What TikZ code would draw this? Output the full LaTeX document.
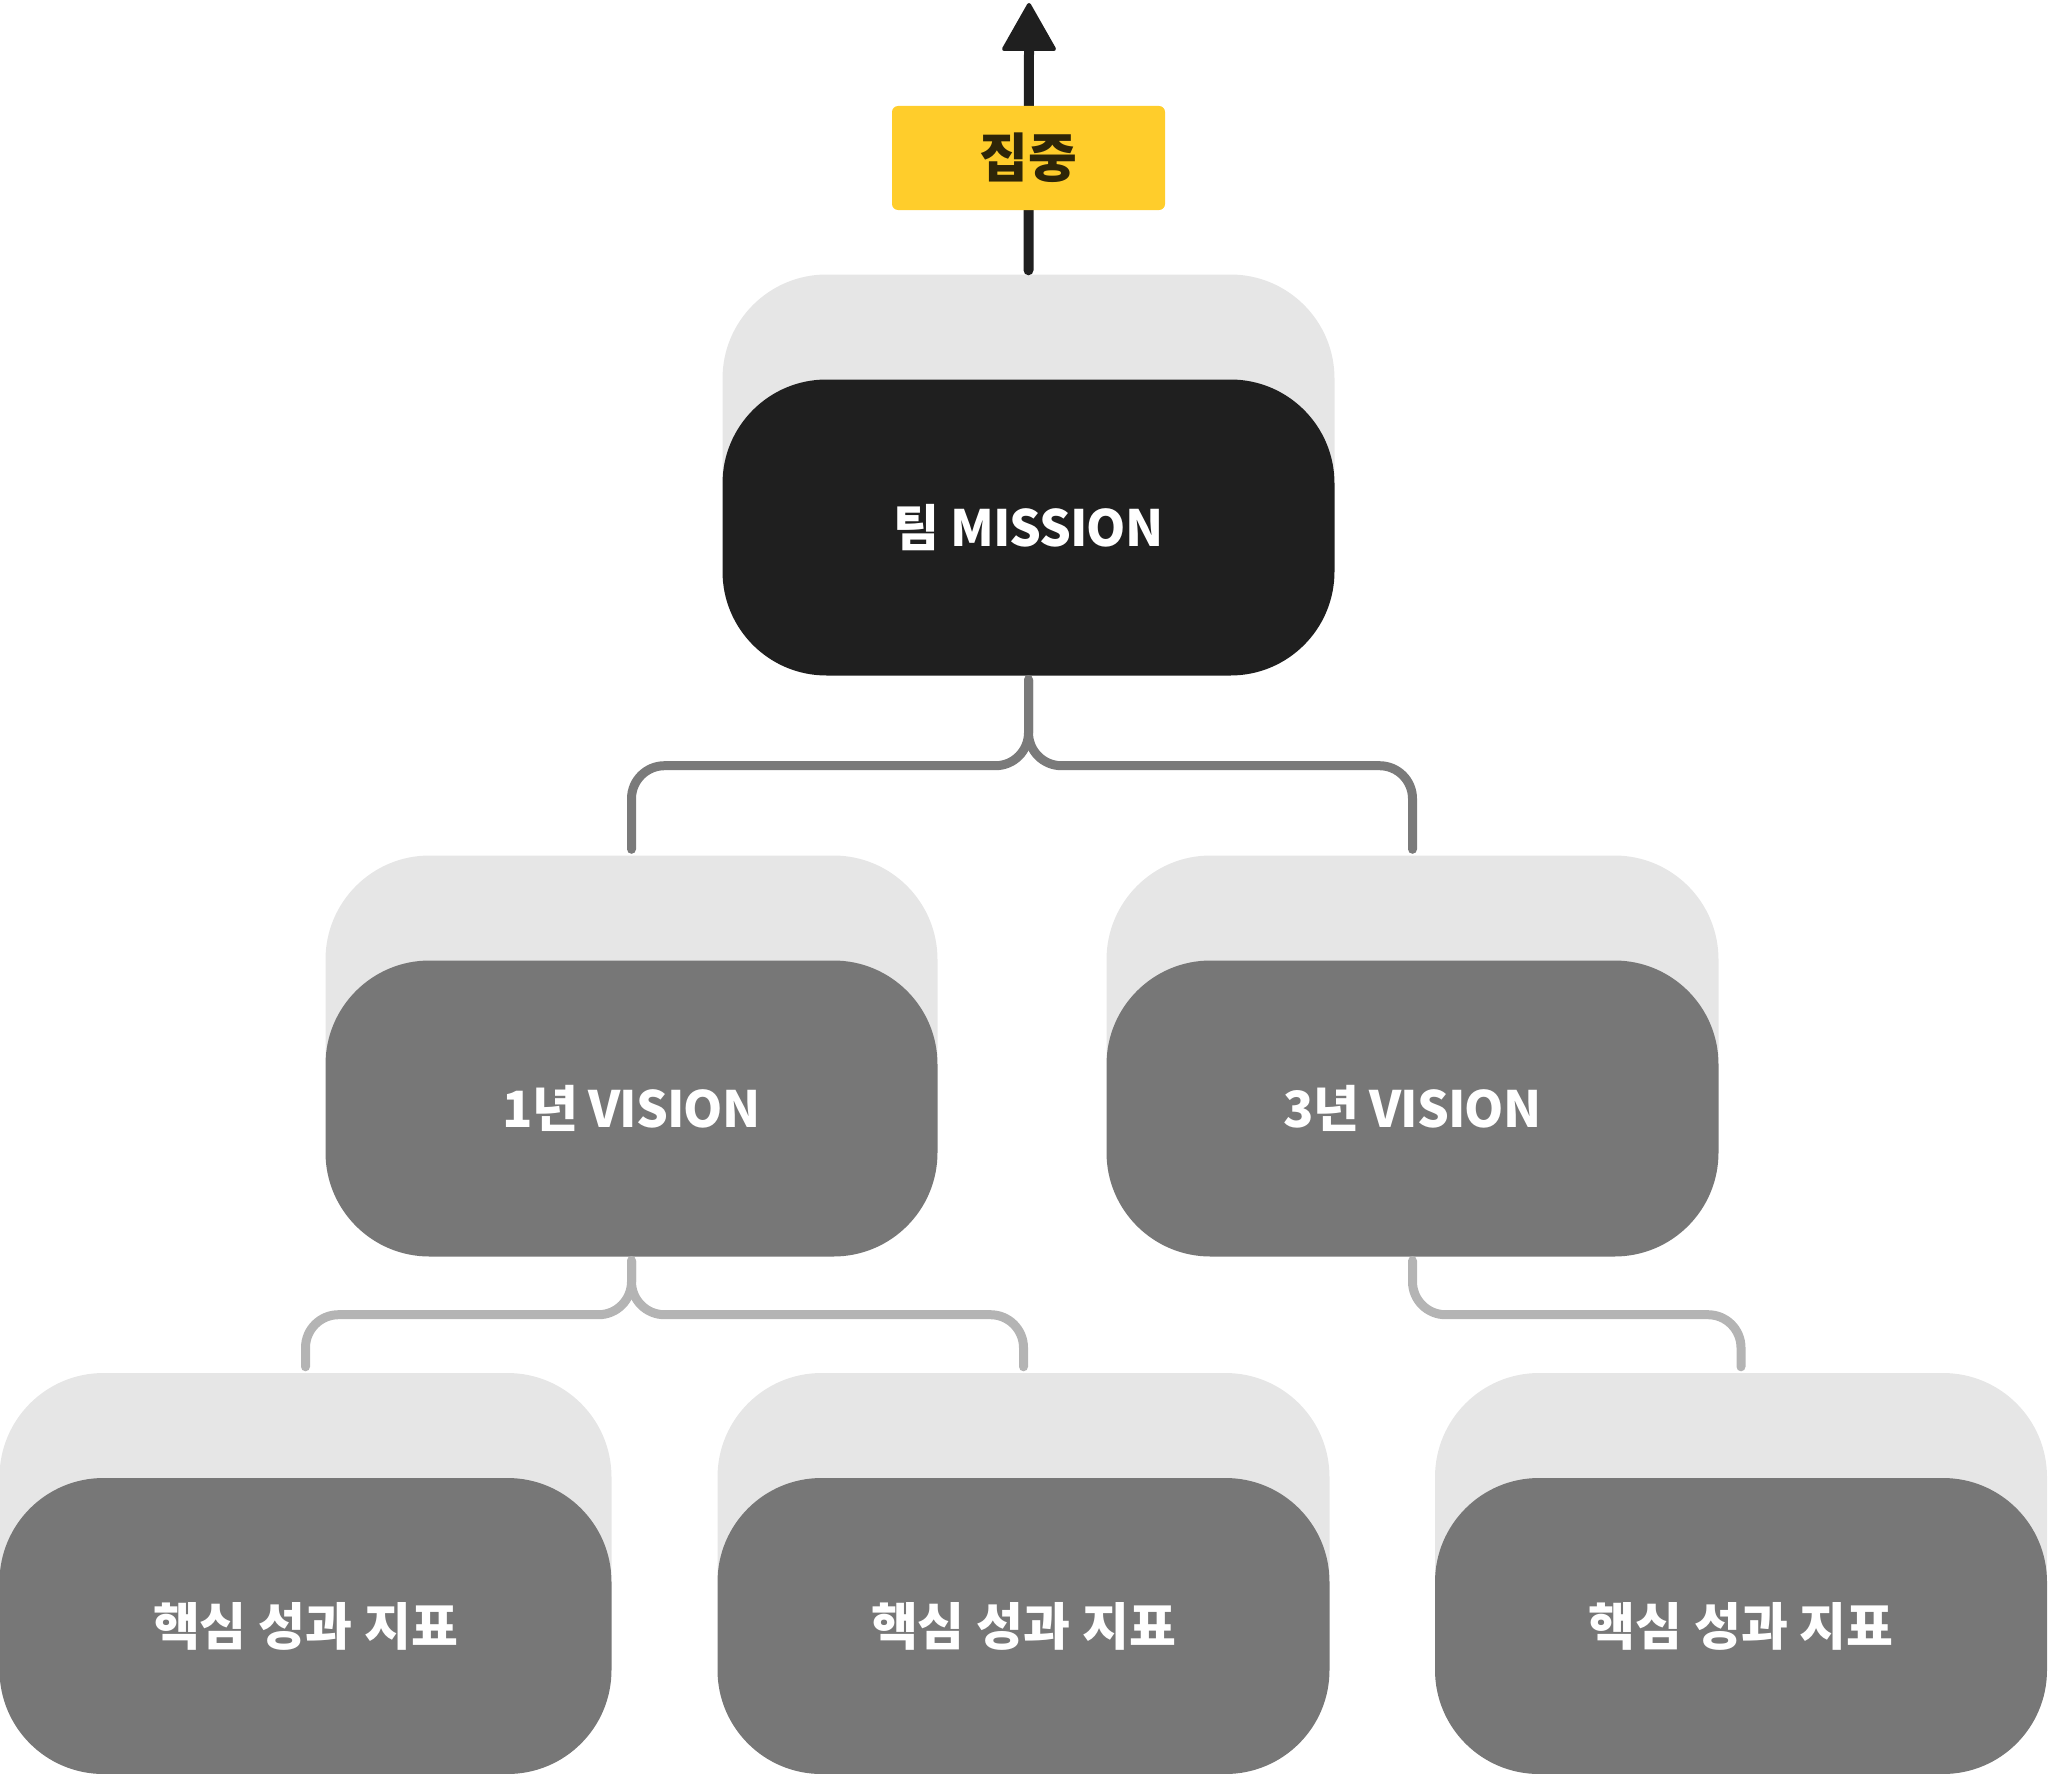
\documentclass[tikz,border=0pt]{standalone}
\usepackage{fontspec}
\setmainfont{Noto Sans CJK KR}
\definecolor{backgrey}{HTML}{E6E6E6}
\definecolor{darkbox}{HTML}{1F1F1F}
\definecolor{midbox}{HTML}{777777}
\definecolor{connA}{HTML}{7A7A7A}
\definecolor{connB}{HTML}{B4B4B4}
\definecolor{yel}{HTML}{FFCD2B}
\definecolor{yeltext}{HTML}{2E2508}
\tikzset{
  backbox/.style={fill=backgrey, draw=none, rounded corners=104pt, minimum width=612pt, minimum height=296pt, inner sep=0pt},
  mainbox/.style={draw=none, rounded corners=104pt, minimum width=612pt, minimum height=296pt, inner sep=0pt, text=white, font=\fontsize{51}{58}\selectfont\bfseries},
  latinbox/.style={mainbox, font=\fontsize{50}{58}\selectfont\bfseries\addfontfeature{LetterSpace=-2}},
  connector/.style={line width=9pt, line cap=round, rounded corners=33pt, shorten <=4pt, shorten >=6pt},
  focusbox/.style={fill=yel, draw=none, rounded corners=6pt, minimum width=273pt, minimum height=104pt, inner sep=0pt, text=yeltext, font=\fontsize{53}{60}\selectfont\bfseries}
}
\begin{document}
\begin{tikzpicture}[x=1pt,y=-1pt]
\useasboundingbox (0,0) rectangle (2048,1774);
% boxes
\node[backbox] (mback) at (1028.5,422.5) {};
\node[latinbox, fill=darkbox] (mission) at (1028.5,527.5) {팀 MISSION};
\node[backbox] (v1back) at (631.5,1003.5) {};
\node[latinbox, fill=midbox] (v1) at (631.5,1108.5) {1년 VISION};
\node[backbox] (v3back) at (1412.5,1003.5) {};
\node[latinbox, fill=midbox] (v3) at (1412.5,1108.5) {3년 VISION};
\node[backbox] (k1back) at (305.5,1521) {};
\node[mainbox, fill=midbox] (k1) at (305.5,1626) {핵심 성과 지표};
\node[backbox] (k2back) at (1023.5,1521) {};
\node[mainbox, fill=midbox] (k2) at (1023.5,1626) {핵심 성과 지표};
\node[backbox] (k3back) at (1741,1521) {};
\node[mainbox, fill=midbox] (k3) at (1741,1626) {핵심 성과 지표};
% arrow
\coordinate (tip) at (1029,5);
\coordinate (headbase) at (1029,49);
\draw[darkbox, line width=10pt, line cap=round] ([yshift=4pt]mback.north) -- (headbase);
\filldraw[darkbox, line width=4pt, line join=round] (tip) -- (1004,49) -- (1054,49) -- cycle;
\node[focusbox] (focus) at (1028.5,158) {집중};
% connectors
\draw[connector, connA] (mission.south) -- ++(0,90) -| (v1back.north);
\draw[connector, connA] (mission.south) -- ++(0,90) -| (v3back.north);
\draw[connector, connB] (v1.south) -- ++(0,58) -| (k1back.north);
\draw[connector, connB] (v1.south) -- ++(0,58) -| (k2back.north);
\draw[connector, connB] (v3.south) -- ++(0,58) -| (k3back.north);
\end{tikzpicture}
\end{document}
